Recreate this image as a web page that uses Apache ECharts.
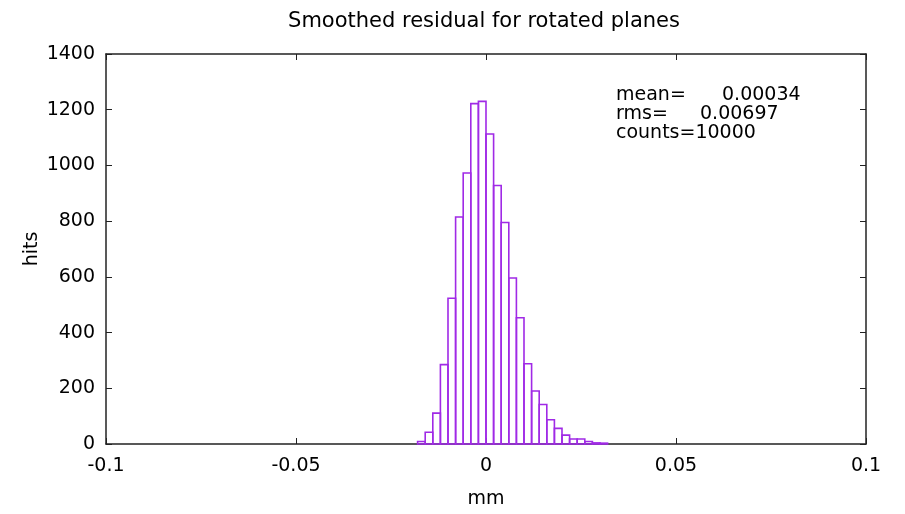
<!DOCTYPE html>
<html>
<head>
<meta charset="utf-8">
<script src="https://cdn.jsdelivr.net/npm/echarts@6/dist/echarts.min.js"></script>
<style>
  html, body { margin: 0; padding: 0; background: #fff; }
  #chart { width: 905px; height: 514px; }
</style>
</head>
<body>
<div id="chart"></div>
<script>
// Histogram bins: lower edge of each bin (mm) and hits per bin
const binLow = [
  -0.018, -0.016, -0.014, -0.012, -0.010, -0.008, -0.006, -0.004, -0.002,
  0.000, 0.002, 0.004, 0.006, 0.008, 0.010, 0.012, 0.014, 0.016,
  0.018, 0.020, 0.022, 0.024, 0.026, 0.028, 0.030
];
const binWidth = 0.002;
const hits = [
  9, 42, 111, 285, 523, 815, 973, 1222, 1230,
  1113, 928, 795, 596, 453, 288, 190, 142, 87,
  56, 32, 18, 18, 9, 4, 3
];
const xTicks = [-0.1, -0.05, 0, 0.05, 0.1];
const statNames = ['mean=', 'rms=', 'counts='];
const statValues = ['0.00034', '0.00697', '10000'];

const FONT = 'DejaVu Sans';
const TXT = '#000';
const AXIS = '#222';
const BAR = '#a02ae6';

const chart = echarts.init(document.getElementById('chart'), null, { renderer: 'canvas' });

const bins = binLow.map((lo, i) => [lo, lo + binWidth, hits[i]]);

const tickLabel = v => {
  for (const t of xTicks) if (Math.abs(v - t) < 1e-9) return String(t);
  return '';
};

const axisLine = { show: true, onZero: false, lineStyle: { color: AXIS, width: 1.5 } };
const axisTick = { show: true, inside: true, length: 6, lineStyle: { color: AXIS, width: 1 } };

// value offsets of the statistics column (mean / rms line up differently, counts runs on)
const valueOffset = [106, 84, null];

chart.setOption({
  animation: false,
  backgroundColor: '#fff',
  title: {
    text: 'Smoothed residual for rotated planes',
    left: 479, top: 6, textAlign: 'center',
    textStyle: { fontFamily: FONT, fontSize: 21, fontWeight: 'normal', color: TXT }
  },
  grid: { left: 106, right: 39, top: 54, bottom: 70, containLabel: false },
  xAxis: [
    {
      type: 'value', position: 'bottom', min: -0.1, max: 0.1, interval: 0.05,
      name: 'mm', nameLocation: 'middle', nameGap: 46, nameMoveOverlap: false,
      nameTextStyle: { fontFamily: FONT, fontSize: 19, color: TXT },
      axisLine, axisTick, splitLine: { show: false },
      axisLabel: { fontFamily: FONT, fontSize: 19, color: TXT, margin: 13, formatter: tickLabel }
    },
    {
      type: 'value', position: 'top', min: -0.1, max: 0.1, interval: 0.05,
      axisLine, axisTick, splitLine: { show: false }, axisLabel: { show: false }
    }
  ],
  yAxis: [
    {
      type: 'value', position: 'left', min: 0, max: 1400, interval: 200,
      name: 'hits', nameLocation: 'middle', nameGap: 64, nameRotate: 90, nameMoveOverlap: false,
      nameTextStyle: { fontFamily: FONT, fontSize: 19, color: TXT },
      axisLine, axisTick, splitLine: { show: false },
      axisLabel: { fontFamily: FONT, fontSize: 19, color: TXT, margin: 11, formatter: v => String(v) }
    },
    {
      type: 'value', position: 'right', min: 0, max: 1400, interval: 200,
      axisLine, axisTick, splitLine: { show: false }, axisLabel: { show: false }
    }
  ],
  series: [{
    type: 'custom',
    xAxisIndex: 0, yAxisIndex: 0,
    data: bins,
    encode: { x: [0, 1], y: 2 },
    renderItem: (params, api) => {
      const p0 = api.coord([api.value(0), api.value(2)]);
      const p1 = api.coord([api.value(1), 0]);
      return {
        type: 'rect',
        shape: { x: p0[0], y: p0[1], width: p1[0] - p0[0], height: p1[1] - p0[1] },
        style: { fill: 'none', stroke: BAR, lineWidth: 1.6 }
      };
    }
  }],
  graphic: statNames.map((name, i) => ({
    type: 'group',
    left: 616, top: 86 + i * 19,
    children: valueOffset[i] === null
      ? [{ type: 'text', x: 0, y: 0, style: { text: name + statValues[i], font: `19px "${FONT}"`, fill: TXT } }]
      : [
          { type: 'text', x: 0, y: 0, style: { text: name, font: `19px "${FONT}"`, fill: TXT } },
          { type: 'text', x: valueOffset[i], y: 0, style: { text: statValues[i], font: `19px "${FONT}"`, fill: TXT } }
        ]
  }))
});
</script>
</body>
</html>
